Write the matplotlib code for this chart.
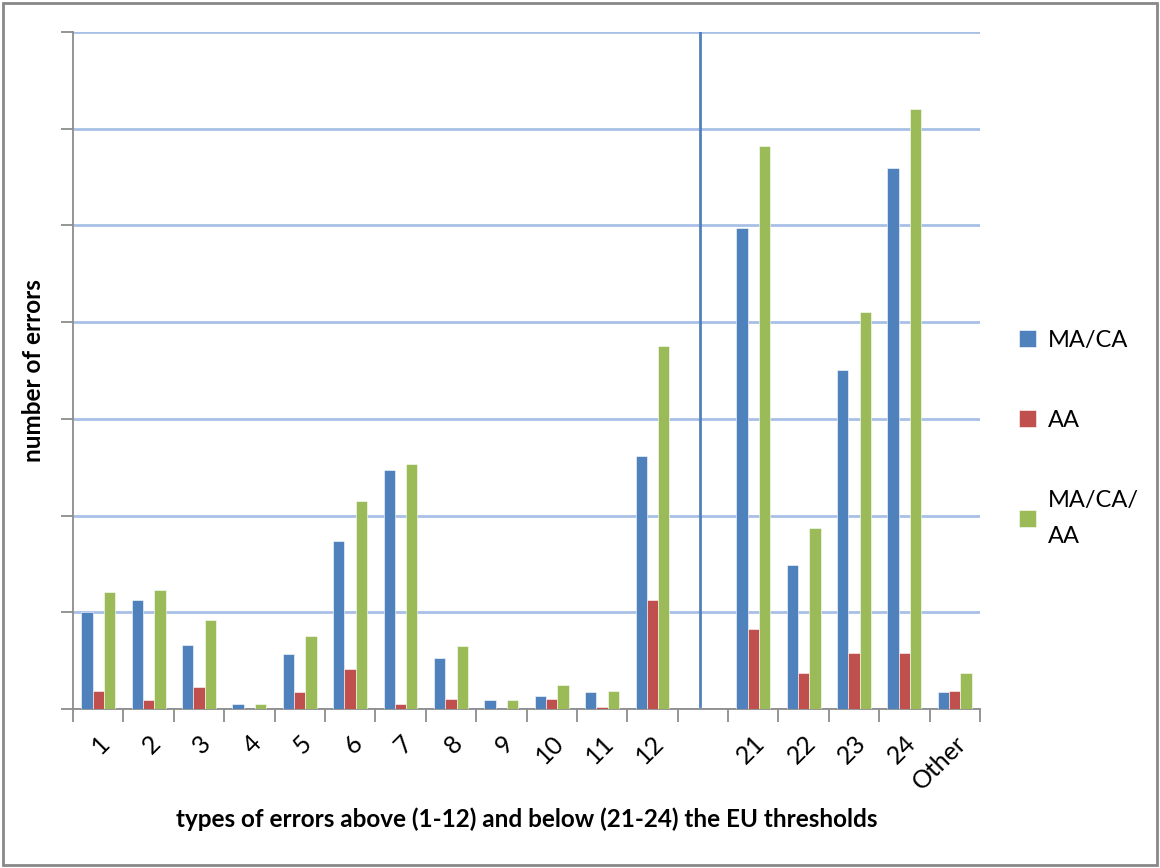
import matplotlib.pyplot as plt
import numpy as np
from matplotlib.ticker import FixedLocator, NullFormatter

categories = ["1", "2", "3", "4", "5", "6", "7", "8", "9", "10", "11", "12",
              "", "21", "22", "23", "24", "Other"]
ma_ca = [10.05, 11.26, 6.6, 0.52, 5.68, 17.36, 24.76, 5.27, 0.93, 1.31, 1.76, 26.14,
         0, 49.7, 14.85, 35.1, 55.9, 1.72]
aa = [1.86, 0.93, 2.27, 0, 1.72, 4.13, 0.52, 1.03, 0, 1.03, 0.2, 11.26,
      0, 8.3, 3.69, 5.8, 5.8, 1.86]
ma_ca_aa = [12.06, 12.3, 9.16, 0.52, 7.54, 21.46, 25.3, 6.47, 0.93, 2.51, 1.86, 37.5,
            0, 58.2, 18.67, 41.1, 62.0, 3.69]

series = [("MA/CA", ma_ca, "#4F81BD"),
          ("AA", aa, "#C0504D"),
          ("MA/CA/\nAA", ma_ca_aa, "#9BBB59")]

plt.rcParams['font.family'] = ['Lato', 'DejaVu Sans']

fig = plt.figure(figsize=(11.6, 8.68), dpi=100)
ax = fig.add_axes([73/1160, 1-709/868, (980-73)/1160, (709-32)/868])

x = np.arange(len(categories))
w = 0.224
for i, (name, vals, col) in enumerate(series):
    ax.bar(x + (i-1)*w, vals, width=w, color=col, label=name,
           edgecolor="white", linewidth=0.4, zorder=3)

ax.set_xlim(-0.5, len(categories)-0.5)
ax.set_ylim(0, 70)

# gridlines & axes
ax.set_yticks(np.arange(0, 71, 10))
ax.yaxis.set_major_formatter(NullFormatter())
ax.grid(axis="y", color="#A8C0E6", linewidth=2, zorder=0)
ax.tick_params(axis="y", length=9, width=1.3, color="#8C8C8C")

ax.set_xticks(x)
ax.set_xticklabels(categories, rotation=45, ha="right", rotation_mode="anchor", fontsize=18)
ax.tick_params(axis="x", which="major", length=0, pad=16)
ax.xaxis.set_minor_locator(FixedLocator(np.arange(-0.5, len(categories), 1)))
ax.tick_params(axis="x", which="minor", length=9, width=1.3, color="#8C8C8C")

for s in ["top", "right"]:
    ax.spines[s].set_visible(False)
for s in ["left", "bottom"]:
    ax.spines[s].set_color("#8C8C8C")
    ax.spines[s].set_linewidth(1.3)

# separator between above/below threshold groups
ax.plot([11.95, 11.95], [0.3, 70], color="#4F81BD", linewidth=2, zorder=4)

ax.set_ylabel("number of errors", fontsize=17.5, fontweight="bold", labelpad=8)
ax.set_xlabel("types of errors above (1-12) and below (21-24) the EU thresholds",
              fontsize=17.5, fontweight="bold", labelpad=10)

leg = ax.legend(loc="center left", bbox_to_anchor=(1.02, 0.40), frameon=False,
                fontsize=17, labelspacing=2.5, handlelength=0.7, handleheight=0.7,
                handletextpad=0.5)
leg.get_texts()[2].set_linespacing(1.9)

# outer border
fig.patches.append(plt.Rectangle((0.003, 0.003), 0.994, 0.994, transform=fig.transFigure,
                                 fill=False, edgecolor="#888888", linewidth=2))

fig.savefig("out.png", dpi=100)
